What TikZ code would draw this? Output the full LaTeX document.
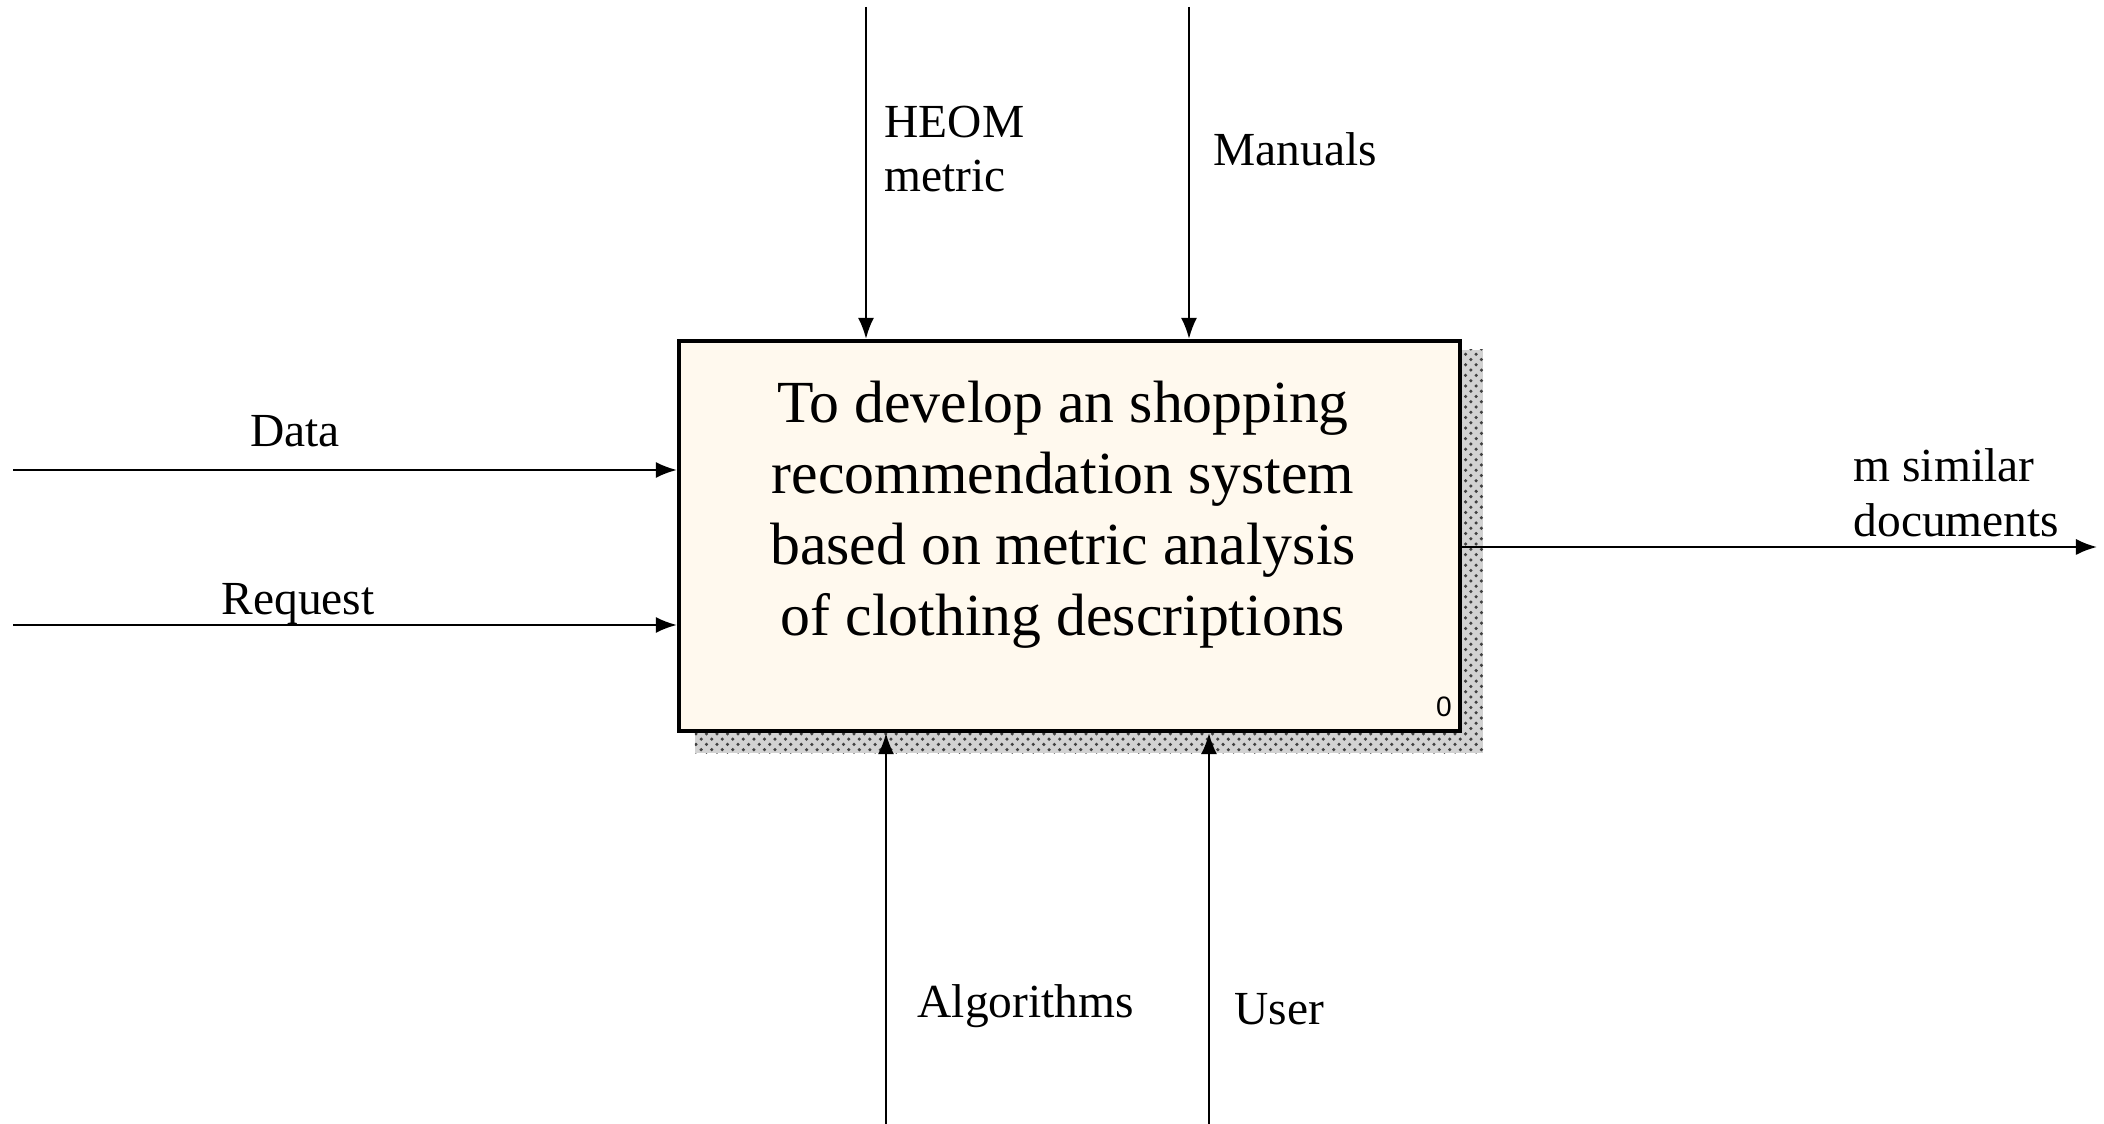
\documentclass[tikz,border=0pt]{standalone}
\usepackage{fontspec}
\setmainfont{Liberation Serif}
\newfontfamily\boxnum{Liberation Sans}
\usetikzlibrary{positioning,patterns,arrows.meta,backgrounds}
\definecolor{boxfill}{RGB}{255,249,238}

\begin{document}
\begin{tikzpicture}[
  flow/.style={line width=0.65pt,-{Latex[length=6pt,width=4.6pt]}},
  lbl/.style={inner sep=0pt,font=\fontsize{13.5}{15.6}\selectfont,align=left},
  func/.style={draw,line width=1.2pt,fill=boxfill,minimum width=7.81cm,minimum height=3.90cm,inner sep=0pt}]
\useasboundingbox (0,0) rectangle (21.04,-11.24);

% function box with its shadow
\node[func] (box) at (10.695,-5.36) {};
\begin{scope}[on background layer]
  \fill[gray!35] ([shift={(0.18,-0.11)}]box.north west) rectangle ([shift={(0.21,-0.20)}]box.south east);
  \fill[pattern=crosshatch dots,pattern color=black!75] ([shift={(0.18,-0.11)}]box.north west) rectangle ([shift={(0.21,-0.20)}]box.south east);
\end{scope}
\node[inner sep=0pt,align=center,font=\fontsize{17}{20.2}\selectfont] (title) at (10.63,-5.15)
  {To develop an shopping\\recommendation system\\based on metric analysis\\ of clothing descriptions};
\node[inner sep=0pt,font=\boxnum\fontsize{8}{9}\selectfont] (num) at (14.44,-7.07) {0};

% controls
\coordinate (heomtop) at (8.66,-0.07);
\coordinate (mantop) at (11.89,-0.07);
\draw[flow] (heomtop) -- (heomtop |- box.north);
\draw[flow] (mantop) -- (mantop |- box.north);
\node[lbl,anchor=west] (heom) at (8.84,-1.49) {HEOM\\metric};
\node[lbl,anchor=west] (manuals) at (12.13,-1.49) {Manuals};

% inputs
\coordinate (datain) at (0.13,-4.70);
\coordinate (reqin) at (0.13,-6.25);
\draw[flow] (datain) -- (datain -| box.west);
\draw[flow] (reqin) -- (reqin -| box.west);
\node[lbl,anchor=base] (data) at (2.95,-4.47) {Data};
\node[lbl,anchor=base] (request) at (2.98,-6.15) {Request};

% output
\coordinate (docsout) at (20.97,-5.47);
\draw[flow] (docsout -| box.east) -- (docsout);
\node[lbl,anchor=west] (docs) at (18.53,-4.93) {m similar\\documents};

% mechanisms
\coordinate (algbot) at (8.86,-11.24);
\coordinate (userbot) at (12.09,-11.24);
\draw[flow] (algbot) -- (algbot |- box.south);
\draw[flow] (userbot) -- (userbot |- box.south);
\node[lbl,anchor=west] (alg) at (9.17,-10.06) {Algorithms};
\node[lbl,anchor=west] (user) at (12.34,-10.09) {User};
\end{tikzpicture}
\end{document}
